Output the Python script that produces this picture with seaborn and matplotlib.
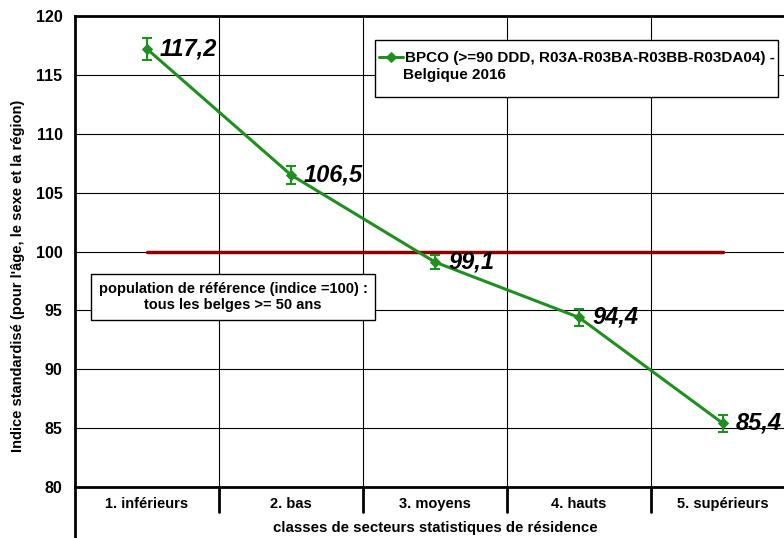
import numpy as np
import pandas as pd
import matplotlib
matplotlib.use("Agg")
import matplotlib.pyplot as plt
from matplotlib.patches import Rectangle
import seaborn as sns

# data
categories = ["1. inférieurs", "2. bas", "3. moyens", "4. hauts", "5. supérieurs"]
indice = [117.2, 106.5, 99.1, 94.4, 85.4]
erreur = [0.9, 0.8, 0.6, 0.7, 0.7]
reference = [100, 100, 100, 100, 100]
labels = ["117,2", "106,5", "99,1", "94,4", "85,4"]

sns.set_style("white")
plt.rcParams['font.family'] = ['Liberation Sans', 'DejaVu Sans']
plt.rcParams['text.color'] = 'black'
plt.rcParams['axes.labelcolor'] = 'black'
plt.rcParams['xtick.color'] = 'black'
plt.rcParams['ytick.color'] = 'black'

green = '#1f8f1f'
df = pd.DataFrame({'pos': np.arange(len(categories)), 'indice': indice, 'ref': reference})

fig = plt.figure(figsize=(7.84, 5.38), dpi=100)
ax = fig.add_axes([75/784, 51/538, 720/784, 471/538])

# horizontal and vertical grid
for yv in range(85, 120, 5):
    ax.axhline(yv, color='black', lw=0.8, zorder=0)
for xb in np.arange(0.5, len(categories) - 1, 1):
    ax.axvline(xb, color='black', lw=0.8, zorder=0)

# reference line at 100
sns.lineplot(data=df, x='pos', y='ref', color='#8b0000', lw=2.5, ax=ax, legend=False, zorder=2)

# main series
sns.lineplot(data=df, x='pos', y='indice', color=green, lw=2.2, marker='D', markersize=5,
             markeredgecolor=green, ax=ax, zorder=3,
             label="BPCO (>=90 DDD, R03A-R03BA-R03BB-R03DA04) -")
ax.errorbar(df['pos'], df['indice'], yerr=erreur, fmt='none', ecolor=green,
            elinewidth=1.5, capsize=3.5, capthick=1.5, zorder=3)

for x, y, t in zip(df['pos'], indice, labels):
    ax.text(x + 0.09, y, t, fontsize=17, fontweight='bold', fontstyle='italic',
            va='center', ha='left', zorder=4, color='black')

ax.set_xlim(-0.5, len(categories) - 0.5)
ax.set_ylim(80, 120)
ax.set_yticks(range(80, 121, 5))
ax.tick_params(axis='y', direction='out', length=7, width=1.5, labelsize=11.5, pad=2)
for lab in ax.get_yticklabels():
    lab.set_fontweight('bold')

ax.set_xticks(df['pos'])
ax.set_xticklabels(categories, fontsize=10.5, fontweight='bold')
ax.tick_params(axis='x', length=0, pad=7)

for side in ['top', 'bottom', 'left']:
    ax.spines[side].set_linewidth(2)
    ax.spines[side].set_color('black')
ax.spines['right'].set_visible(False)

# category table separators and extended left axis
trans = ax.get_xaxis_transform()
for xb in np.arange(0.5, len(categories) - 1, 1):
    ax.plot([xb, xb], [0, -25/471], color='black', lw=2, transform=trans, clip_on=False)
ax.plot([-0.5, -0.5], [0, -60/471], color='black', lw=2, transform=trans, clip_on=False)

ax.set_xlabel("classes de secteurs statistiques de résidence", fontsize=10.8,
              fontweight='bold')
ax.xaxis.set_label_coords(0.5, -(528 - 487) / 471)
ax.xaxis.label.set_va('center')
ax.set_ylabel("Indice standardisé (pour l'âge, le sexe et la région)", fontsize=10.5,
              fontweight='bold')
ax.yaxis.set_label_coords(-(75 - 18) / 720, (487 - 276) / 471)
ax.yaxis.label.set_va('center')

# legend box drawn in figure pixels, legend itself without frame
ax.add_patch(Rectangle((375/784, 1 - 97/538), 403/784, 57/538, transform=fig.transFigure,
                       fc='white', ec='black', lw=1, zorder=5, clip_on=False))
leg = ax.legend(loc='upper left', bbox_to_anchor=(379/784, 1 - 51/538),
                bbox_transform=fig.transFigure, fontsize=11, frameon=False,
                handlelength=1.55, handletextpad=0.15, borderpad=0, borderaxespad=0)
leg.set_zorder(6)
for t in leg.get_texts():
    t.set_fontweight('bold')
fig.text(403/784, 1 - 75/538, "Belgique 2016", fontsize=11, fontweight='bold',
         ha='left', va='center', zorder=7)

ax.text((233 - 75) / 720, (487 - 297) / 471,
        "population de référence (indice =100) :\ntous les belges >= 50 ans",
        transform=ax.transAxes, ha='center', va='center', fontsize=10.5, fontweight='bold',
        linespacing=1.25,
        bbox=dict(boxstyle='square,pad=0.5', fc='white', ec='black', lw=1), zorder=5)

fig.savefig("out.png", dpi=100)
